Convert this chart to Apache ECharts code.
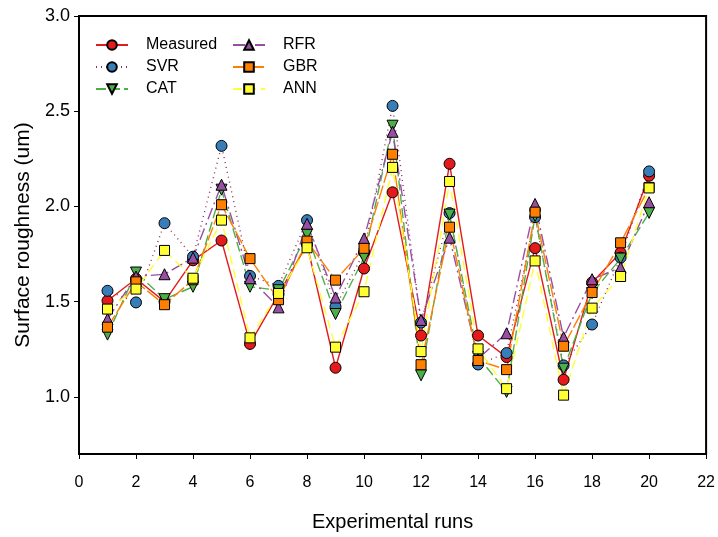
<!DOCTYPE html>
<html>
<head>
<meta charset="utf-8">
<script src="https://cdn.jsdelivr.net/npm/echarts@6/dist/echarts.min.js"></script>
<style>
  html, body { margin: 0; padding: 0; background: #fff; }
  #chart { width: 718px; height: 537px; }
</style>
</head>
<body>
<div id="chart"></div>
<script>
// Experimental runs and the surface roughness (um) per run for each model
const runs = [1, 2, 3, 4, 5, 6, 7, 8, 9, 10, 11, 12, 13, 14, 15, 16, 17, 18, 19, 20];
const measured = [1.505, 1.62, 1.50, 1.717, 1.821, 1.278, 1.54, 1.80, 1.153, 1.674, 2.074, 1.322, 2.224, 1.322, 1.209, 1.781, 1.090, 1.601, 1.757, 2.161];
const svr = [1.557, 1.496, 1.912, 1.736, 2.318, 1.635, 1.583, 1.928, 1.473, 1.76, 2.528, 1.39, 1.965, 1.17, 1.230, 1.944, 1.165, 1.380, 1.731, 2.184];
const cat = [1.327, 1.653, 1.513, 1.578, 2.088, 1.578, 1.56, 1.853, 1.435, 1.731, 2.424, 1.113, 1.957, 1.21, 1.026, 1.95, 1.148, 1.545, 1.726, 1.966];
const rfr = [1.409, 1.632, 1.644, 1.731, 2.114, 1.623, 1.470, 1.909, 1.522, 1.832, 2.392, 1.404, 1.836, 1.20, 1.334, 2.013, 1.313, 1.618, 1.679, 2.022];
const gbr = [1.366, 1.604, 1.484, 1.615, 2.009, 1.726, 1.51, 1.818, 1.613, 1.780, 2.274, 1.169, 1.891, 1.191, 1.143, 1.970, 1.266, 1.548, 1.809, 2.10];
const ann = [1.461, 1.566, 1.769, 1.623, 1.928, 1.310, 1.543, 1.783, 1.261, 1.552, 2.205, 1.238, 2.131, 1.252, 1.043, 1.714, 1.009, 1.466, 1.632, 2.097];
const yTicks = [1.0, 1.5, 2.0, 2.5, 3.0];

const pairs = vals => runs.map((r, i) => [r, vals[i]]);
const FONT = 'Liberation Sans, Arial, sans-serif';

function makeSeries(name, vals, symbol, size, fill, lineColor, dash, rotate) {
  return {
    name: name,
    type: 'line',
    data: pairs(vals),
    symbol: symbol,
    symbolSize: size,
    symbolRotate: rotate || 0,
    itemStyle: { color: fill, borderColor: '#000', borderWidth: 1 },
    lineStyle: { color: lineColor, width: 1.4, type: dash },
    emphasis: { disabled: true },
    animation: false
  };
}

const legendText = { fontFamily: FONT, fontSize: 16, color: '#000', padding: [0, 0, 0, 13] };

const chart = echarts.init(document.getElementById('chart'));
chart.setOption({
  animation: false,
  grid: {
    left: 79, right: 10, top: 16, bottom: 83,
    show: true, borderColor: '#000', borderWidth: 2, backgroundColor: 'transparent'
  },
  xAxis: {
    type: 'value', min: 0, max: 22, interval: 2,
    name: 'Experimental runs', nameLocation: 'middle', nameGap: 58,
    nameTextStyle: { fontFamily: FONT, fontSize: 20, color: '#000' },
    axisLine: { show: true, lineStyle: { color: '#000', width: 2 } },
    axisTick: { show: true, inside: false, length: 5, lineStyle: { color: '#000', width: 1 } },
    axisLabel: { fontFamily: FONT, fontSize: 16, color: '#000', margin: 21 },
    splitLine: { show: false }
  },
  yAxis: {
    type: 'value', min: 0.7, max: 3.0,
    name: 'Surface roughness (um)', nameLocation: 'middle', nameGap: 45,
    nameTextStyle: { fontFamily: FONT, fontSize: 21, color: '#000' },
    axisLine: { show: true, lineStyle: { color: '#000', width: 2 } },
    axisTick: { show: true, inside: false, length: 5, customValues: yTicks, lineStyle: { color: '#000', width: 1 } },
    axisLabel: { fontFamily: FONT, fontSize: 18, color: '#000', margin: 9, customValues: yTicks,
      formatter: v => v.toFixed(1) },
    splitLine: { show: false }
  },
  legend: [
    {
      data: ['Measured', 'SVR', 'CAT'],
      orient: 'vertical', left: 95, top: 37, padding: 0,
      itemWidth: 32, itemHeight: 12, itemGap: 6,
      textStyle: legendText,
      selectedMode: false
    },
    {
      data: ['RFR', 'GBR', 'ANN'],
      orient: 'vertical', left: 232, top: 37, padding: 0,
      itemWidth: 32, itemHeight: 12, itemGap: 6,
      textStyle: legendText,
      selectedMode: false
    }
  ],
  series: [
    makeSeries('Measured', measured, 'circle', 11, '#e41a1c', '#e41a1c', 'solid'),
    makeSeries('SVR', svr, 'circle', 11, '#377eb8', '#8e2c5c', [1, 4]),
    makeSeries('CAT', cat, 'triangle', 11, '#4daf4a', '#4daf4a', [10, 4], 180),
    makeSeries('RFR', rfr, 'triangle', 11, '#984ea3', '#984ea3', [12, 4, 2, 4]),
    makeSeries('GBR', gbr, 'rect', 10, '#ff7f00', '#ff7f00', [14, 3]),
    makeSeries('ANN', ann, 'rect', 10, '#ffff33', '#ffff33', [9, 5])
  ]
});
</script>
</body>
</html>
